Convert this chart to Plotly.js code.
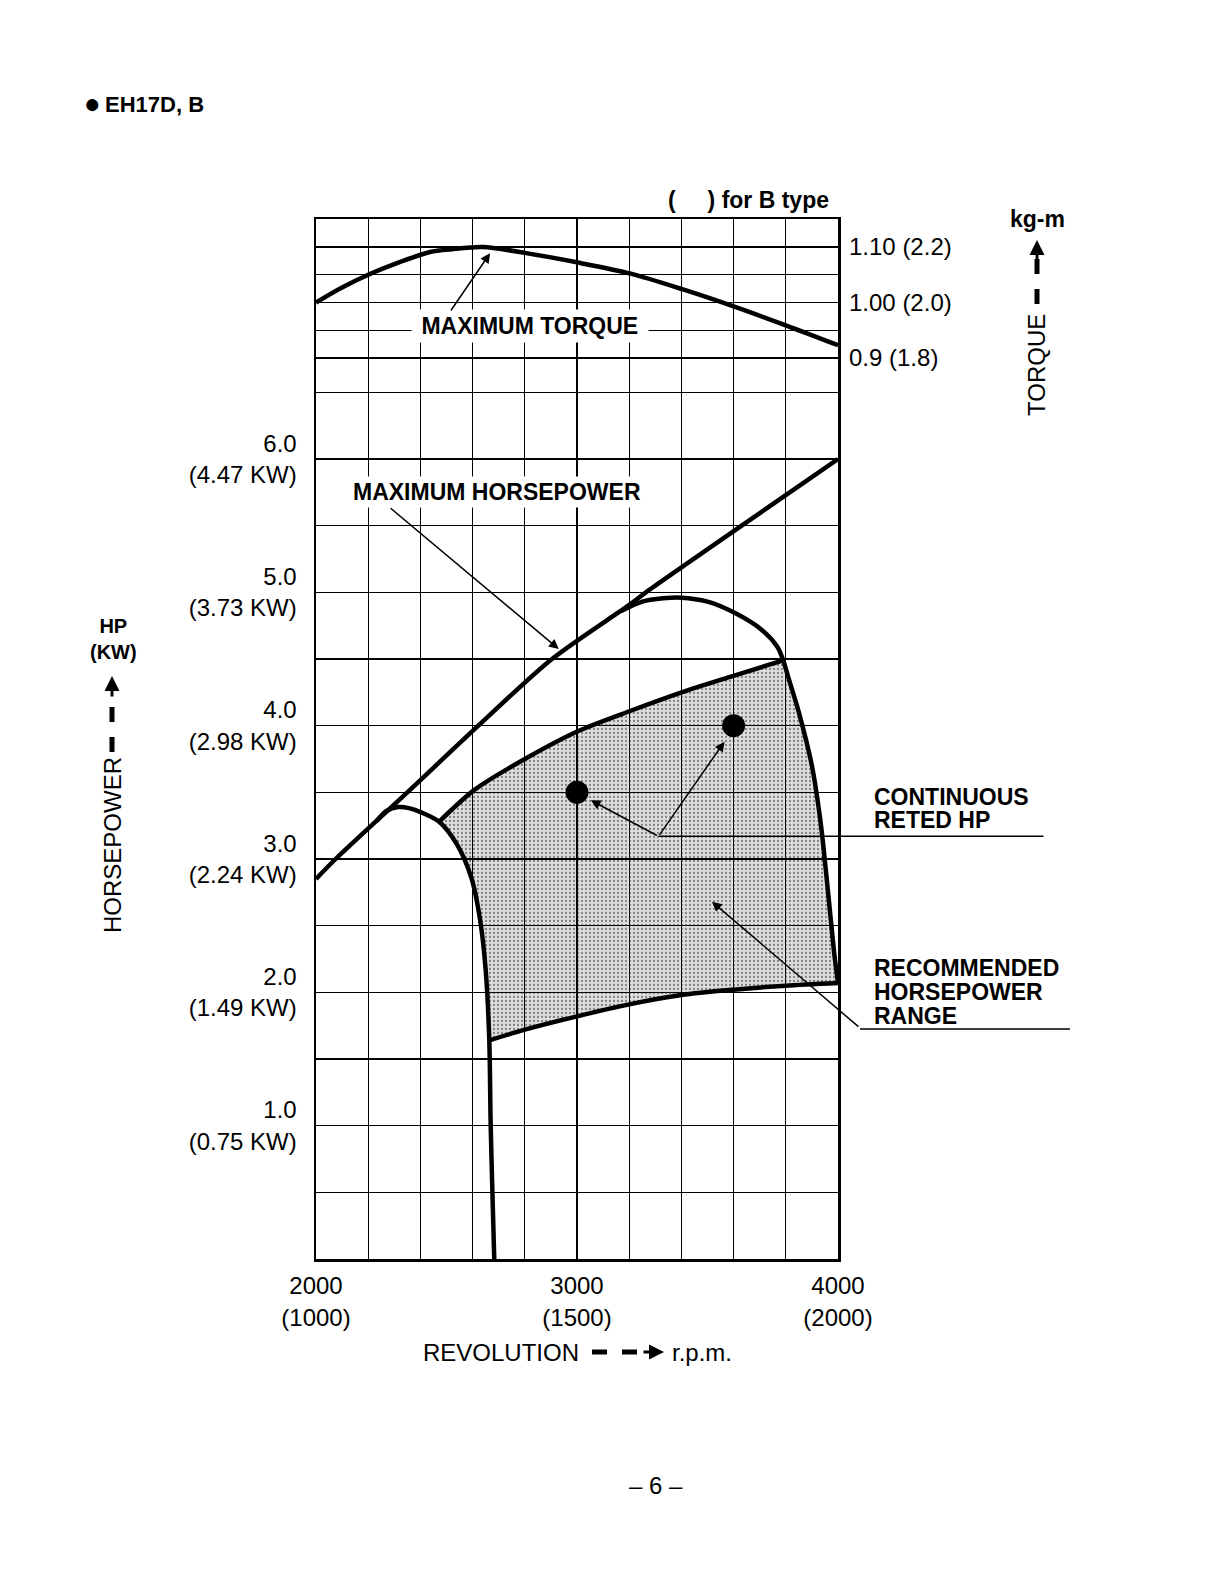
<!DOCTYPE html>
<html><head><meta charset="utf-8">
<script src="https://cdn.plot.ly/plotly-3.0.1.min.js"></script>
<style>body{margin:0;background:#fff}</style>
</head><body>
<div id="chart" style="width:1225px;height:1585px"></div>
<script>
// ---------- data ----------
const rpmTorque = [2000, 2100, 2200, 2310, 2437, 2520, 2640, 2805, 3004, 3206, 3403, 3600, 3805, 4000];
const torque    = [1.000, 1.027, 1.050, 1.071, 1.091, 1.096, 1.100, 1.089, 1.072, 1.052, 1.024, 0.993, 0.958, 0.923];

const rpmMaxHP = [2000, 2075, 2350, 2622, 2904, 3196, 3264, 3631, 4000];
const hpMax    = [2.85, 3.00, 3.50, 4.00, 4.50, 4.90, 5.00, 5.50, 6.00];

const rpmLeft = [2230, 2270, 2314, 2360, 2403, 2472, 2540, 2595, 2629, 2650, 2664, 2669, 2676, 2683];
const hpLeft  = [3.28, 3.36, 3.39, 3.38, 3.35, 3.28, 3.11, 2.86, 2.54, 2.17, 1.64, 1.03, 0.49, 0.00];

const rpmRight = [3170, 3250, 3330, 3400, 3500, 3600, 3707, 3768, 3790, 3810, 3850, 3900, 3935, 3962, 3985, 4000];
const hpRight  = [4.86, 4.93, 4.955, 4.96, 4.93, 4.85, 4.72, 4.59, 4.49, 4.36, 4.10, 3.70, 3.25, 2.75, 2.30, 2.07];

const rpmTop = [2472, 2608, 2800, 3005, 3203, 3401, 3593, 3790];
const hpTop  = [3.28, 3.52, 3.75, 3.96, 4.11, 4.25, 4.37, 4.49];

const rpmBottom = [2664, 2800, 3000, 3200, 3400, 3600, 3800, 4000];
const hpBottom  = [1.64, 1.72, 1.82, 1.91, 1.98, 2.02, 2.05, 2.07];

const rpmRated = [3000, 3600];
const hpRated  = [3.5, 4.0];

const xTickVals = [2000, 2200, 2400, 2600, 2800, 3000, 3200, 3400, 3600, 3800, 4000];
const xTickText = ['2000<br>(1000)', '', '', '', '', '3000<br>(1500)', '', '', '', '', '4000<br>(2000)'];
const hpTickVals = [0, 0.5, 1, 1.5, 2, 2.5, 3, 3.5, 4, 4.5, 5, 5.5, 6, 6.5];
const hpTickText = ['', '', '1.0<br>(0.75 KW)', '', '2.0<br>(1.49 KW)', '', '3.0<br>(2.24 KW)', '', '4.0<br>(2.98 KW)', '', '5.0<br>(3.73 KW)', '', '6.0<br>(4.47 KW)', ''];
const tqTickVals = [0.90, 0.95, 1.00, 1.05, 1.10];
const tqTickText = ['0.9 (1.8)', '', '1.00 (2.0)', '', '1.10 (2.2)'];

// ---------- shaded region built from the boundary arrays ----------
const cornerTR = rpmTop[rpmTop.length - 1];
const cornerTL = rpmTop[0];
const cornerBL = rpmBottom[0];
const shadeX = [], shadeY = [];
rpmTop.forEach((r, i) => { shadeX.push(r); shadeY.push(hpTop[i]); });
rpmRight.forEach((r, i) => { if (r > cornerTR) { shadeX.push(r); shadeY.push(hpRight[i]); } });
for (let i = rpmBottom.length - 1; i >= 0; i--) { shadeX.push(rpmBottom[i]); shadeY.push(hpBottom[i]); }
for (let i = rpmLeft.length - 1; i >= 0; i--) {
  if (rpmLeft[i] < cornerBL && rpmLeft[i] > cornerTL) { shadeX.push(rpmLeft[i]); shadeY.push(hpLeft[i]); }
}
shadeX.push(cornerTL); shadeY.push(hpTop[0]);

const FONT = 'Liberation Sans, Arial, Helvetica, sans-serif';
const thick = {color: '#000', width: 4.5, shape: 'spline', smoothing: 0.8};

const traces = [
  {x: shadeX, y: shadeY, mode: 'lines', fill: 'toself', line: {width: 0},
   fillcolor: 'rgba(0,0,0,0.13)',
   fillpattern: {shape: '.', fgcolor: '#222', size: 4, solidity: 0.25, fillmode: 'overlay'},
   hoverinfo: 'skip'},
  {x: rpmMaxHP, y: hpMax, mode: 'lines', line: thick},
  {x: rpmLeft, y: hpLeft, mode: 'lines', line: thick},
  {x: rpmRight, y: hpRight, mode: 'lines', line: thick},
  {x: rpmTop, y: hpTop, mode: 'lines', line: thick},
  {x: rpmBottom, y: hpBottom, mode: 'lines', line: thick},
  {x: rpmTorque, y: torque, yaxis: 'y2', mode: 'lines', line: thick},
  {x: rpmRated, y: hpRated, mode: 'markers', marker: {size: 23, color: '#000'}, cliponaxis: false}
];

// paper coordinates helpers (plot area: left 316, width 522, top 219, height 1040)
const px = v => (v - 316) / 522;
const py = v => (1259 - v) / 1040;
const F = {family: FONT, size: 24, color: '#000'};
const FB = {family: FONT, size: 23, color: '#000', weight: 'bold'};

function txt(x, y, text, font, extra) {
  return Object.assign({xref: 'paper', yref: 'paper', x: px(x), y: py(y), xanchor: 'center', yanchor: 'middle',
    showarrow: false, text: text, font: font}, extra || {});
}

const annotations = [
  txt(92, 104, '●', {family: FONT, size: 28, color: '#000'}),
  txt(103, 105, 'EH17D, B', {family: FONT, size: 22, color: '#000', weight: 'bold'}, {xanchor: 'left'}),
  txt(831, 200, '(\u00a0\u00a0\u00a0\u00a0\u00a0) for B type', FB, {xanchor: 'right'}),
  txt(1037, 219, 'kg-m', FB),
  txt(1037, 365, 'TORQUE', F, {textangle: -90}),
  {xref: 'paper', yref: 'paper', x: px(1037), y: py(240), ax: 0, ay: 22, text: '', showarrow: true,
   arrowhead: 2, arrowwidth: 3, arrowsize: 1, arrowcolor: '#000'},
  txt(113, 639, 'HP<br>(KW)', {family: FONT, size: 20, color: '#000', weight: 'bold'}, {align: 'center'}),
  txt(112, 845, 'HORSEPOWER', F, {textangle: -90}),
  {xref: 'paper', yref: 'paper', x: px(112), y: py(676), ax: 0, ay: 22, text: '', showarrow: true,
   arrowhead: 2, arrowwidth: 3, arrowsize: 1, arrowcolor: '#000'},
  txt(501, 1352, 'REVOLUTION', F),
  {xref: 'paper', yref: 'paper', x: px(664), y: py(1352), ax: -22, ay: 0, text: '', showarrow: true,
   arrowhead: 2, arrowwidth: 3, arrowsize: 1, arrowcolor: '#000'},
  txt(702, 1352, 'r.p.m.', F),
  txt(656, 1485, '– 6 –', F),
  // curve labels
  {xref: 'x', yref: 'y2', x: 2820, y: 0.9577, xanchor: 'center', yanchor: 'middle', showarrow: false,
   text: '\u00a0MAXIMUM TORQUE\u00a0', bgcolor: '#fff', borderpad: 3, font: FB},
  {xref: 'x', yref: 'y2', axref: 'x', ayref: 'y2', x: 2667, y: 1.089, ax: 2513, ay: 0.983, text: '',
   showarrow: true, arrowhead: 2, arrowwidth: 1.5, arrowsize: 1.3, arrowcolor: '#000'},
  {xref: 'x', yref: 'y', x: 2693, y: 5.754, xanchor: 'center', yanchor: 'middle', showarrow: false,
   text: 'MAXIMUM HORSEPOWER', bgcolor: '#fff', borderpad: 2, font: FB},
  {xref: 'x', yref: 'y', axref: 'x', ayref: 'y', x: 2930, y: 4.575, ax: 2280, ay: 5.64, text: '',
   showarrow: true, arrowhead: 2, arrowwidth: 1.5, arrowsize: 1.3, arrowcolor: '#000'},
  // continuous rated HP leader
  {xref: 'x', yref: 'y', axref: 'x', ayref: 'y', x: 3312, y: 3.17, ax: 4793, ay: 3.17, text: '',
   showarrow: true, arrowhead: 0, arrowwidth: 1.5, arrowcolor: '#000'},
  {xref: 'x', yref: 'y', axref: 'x', ayref: 'y', x: 3053, y: 3.44, ax: 3312, ay: 3.17, text: '',
   showarrow: true, arrowhead: 2, arrowwidth: 1.5, arrowsize: 1.3, arrowcolor: '#000'},
  {xref: 'x', yref: 'y', axref: 'x', ayref: 'y', x: 3565, y: 3.88, ax: 3312, ay: 3.17, text: '',
   showarrow: true, arrowhead: 2, arrowwidth: 1.5, arrowsize: 1.3, arrowcolor: '#000'},
  txt(872, 797, 'CONTINUOUS', FB, {xanchor: 'left'}),
  txt(872, 820, 'RETED HP', FB, {xanchor: 'left'}),
  // recommended range leader
  {xref: 'x', yref: 'y', axref: 'x', ayref: 'y', x: 3517, y: 2.68, ax: 4084, ay: 1.733, text: '',
   showarrow: true, arrowhead: 2, arrowwidth: 1.5, arrowsize: 1.3, arrowcolor: '#000'},
  txt(872, 968, 'RECOMMENDED', FB, {xanchor: 'left'}),
  txt(872, 992, 'HORSEPOWER', FB, {xanchor: 'left'}),
  txt(872, 1016, 'RANGE', FB, {xanchor: 'left'})
];

const shapes = [
  {type: 'line', xref: 'paper', yref: 'paper', x0: px(1037), x1: px(1037), y0: py(304), y1: py(258),
   line: {color: '#000', width: 5, dash: 'dash'}},
  {type: 'line', xref: 'paper', yref: 'paper', x0: px(112), x1: px(112), y0: py(752), y1: py(694),
   line: {color: '#000', width: 5, dash: 'dash'}},
  {type: 'line', xref: 'paper', yref: 'paper', x0: px(592), x1: px(646), y0: py(1352), y1: py(1352),
   line: {color: '#000', width: 5, dash: 'dash'}},
  {type: 'line', xref: 'paper', yref: 'paper', x0: px(860), x1: px(1070), y0: py(1029), y1: py(1029),
   line: {color: '#000', width: 1.5}}
];

const axisCommon = {showgrid: true, gridcolor: '#000', gridwidth: 1.4, zeroline: false, ticks: '',
  tickfont: F, fixedrange: true};

const layout = {
  width: 1225, height: 1585,
  margin: {l: 316, r: 387, t: 219, b: 326, pad: 0},
  paper_bgcolor: '#fff', plot_bgcolor: '#fff',
  showlegend: false,
  font: F,
  xaxis: Object.assign({}, axisCommon, {range: [2000, 4000], tickvals: xTickVals, ticktext: xTickText,
    showline: true, linecolor: '#000', linewidth: 2.5, mirror: true, ticklabelstandoff: 4}),
  yaxis: Object.assign({}, axisCommon, {range: [0, 7.8], tickvals: hpTickVals, ticktext: hpTickText,
    showline: true, linecolor: '#000', linewidth: 2.5, mirror: true, ticklabelstandoff: 12}),
  yaxis2: Object.assign({}, axisCommon, {range: [-0.7234, 1.1505], overlaying: 'y', side: 'right',
    tickvals: tqTickVals, ticktext: tqTickText, showline: false, ticklabelstandoff: 10}),
  annotations: annotations,
  shapes: shapes
};

Plotly.newPlot('chart', traces, layout, {displayModeBar: false, staticPlot: true});
</script>
</body></html>
